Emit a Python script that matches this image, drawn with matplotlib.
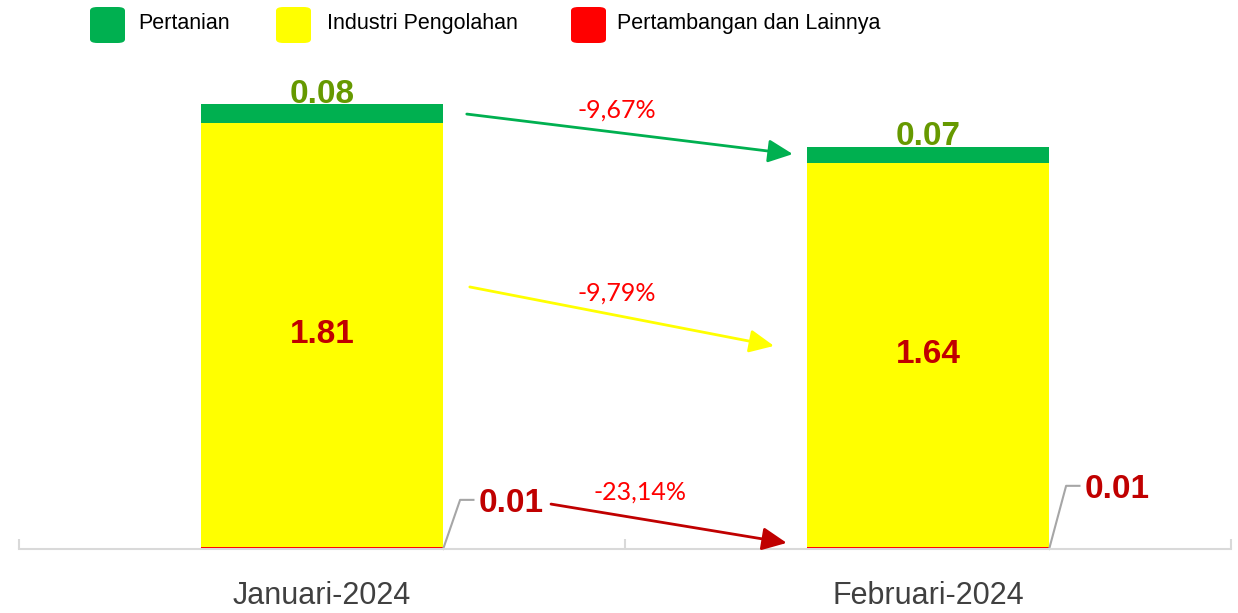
import numpy as np
import matplotlib.pyplot as plt
from matplotlib.patches import FancyBboxPatch

plt.rcParams['font.family'] = ['Liberation Sans', 'DejaVu Sans']

periods = ['Januari-2024', 'Februari-2024']
sectors = ['Pertanian', 'Industri Pengolahan', 'Pertambangan dan Lainnya']
pertanian = np.array([0.08, 0.07])
industri = np.array([1.81, 1.64])
tambang = np.array([0.01, 0.01])
changes = ['-9,67%', '-9,79%', '-23,14%']

c_green = '#00b050'
c_yellow = '#ffff00'
c_red = '#ff0000'
c_dred = '#c00000'
c_olive = '#669900'

fig = plt.figure(figsize=(12.38, 6.13), dpi=100)
ax = fig.add_axes([0.0153, 0.1044, 0.979, 0.7977])

x = np.arange(len(periods))
w = 0.4
ax.bar(x, tambang, w, color=c_red)
ax.bar(x, industri, w, bottom=tambang, color=c_yellow)
ax.bar(x, pertanian, w, bottom=tambang + industri, color=c_green)

ax.set_xlim(-0.5, 1.5)
ax.set_ylim(0, 2.09)
for s in ['top', 'left', 'right']:
    ax.spines[s].set_visible(False)
ax.spines['bottom'].set_color('#d9d9d9')
ax.spines['bottom'].set_linewidth(1.5)
ax.set_yticks([])
ax.set_xticks(x)
ax.set_xticklabels(periods, fontsize=22, color='#404040')
ax.tick_params(axis='x', which='major', length=0, pad=23)
ax.set_xticks([-0.5, 0.5, 1.5], minor=True)
ax.tick_params(axis='x', which='minor', direction='in', length=7, width=1.5, color='#d9d9d9')

total = tambang + industri + pertanian
lab = dict(fontsize=24, fontweight='bold', ha='center')
for i in range(len(periods)):
    ax.text(x[i], total[i] + 0.005, f'{pertanian[i]:.2f}', color=c_olive, va='baseline', **lab)
    ax.text(x[i], tambang[i] + industri[i] / 2, f'{industri[i]:.2f}', color=c_dred, va='center', **lab)

# leader lines for the tiny bottom segment
lead_y = [0.21, 0.27]
for i in range(len(periods)):
    xr = x[i] + w / 2
    ax.plot([xr, xr + 0.028, xr + 0.05], [0, lead_y[i], lead_y[i]], color='#a6a6a6', lw=1.5, clip_on=False)
    ax.text(xr + 0.112, lead_y[i] - 0.015, f'{tambang[i]:.2f}', color=c_dred, va='center', **lab)

# change arrows between the two months
arrows = [
    ((0.239, 1.859), (0.777, 1.688), '#00b050'),
    ((0.244, 1.12), (0.746, 0.868), '#ffff00'),
    ((0.378, 0.192), (0.767, 0.026), c_dred),
]
pct_pos = [(0.487, 1.876), (0.487, 1.094), (0.525, 0.244)]
for (p0, p1, col), txt, pp in zip(arrows, changes, pct_pos):
    ax.annotate('', xy=p1, xytext=p0,
                arrowprops=dict(arrowstyle='-|>,head_length=0.6,head_width=0.28', color=col, lw=2,
                                mutation_scale=25, shrinkA=0, shrinkB=0))
    ax.text(pp[0], pp[1], txt, color=c_red, fontsize=18, ha='center', va='center', family=['Lato', 'DejaVu Sans'])

# legend with rounded swatches
W, H = 1238, 613
leg_sq = [90, 276, 571]
leg_tx = [138, 327, 617]
for sx, tx, c, name in zip(leg_sq, leg_tx, [c_green, c_yellow, c_red], sectors):
    fig.patches.append(FancyBboxPatch((sx / W, 1 - 43 / H), 35 / W, 36 / H,
                                      boxstyle='round,pad=0,rounding_size=0.006',
                                      transform=fig.transFigure, facecolor=c, edgecolor='none'))
    fig.text(tx / W, 1 - 29 / H, name, fontsize=15.5, va='baseline', ha='left', color='black')

fig.savefig('out.png', dpi=100)
